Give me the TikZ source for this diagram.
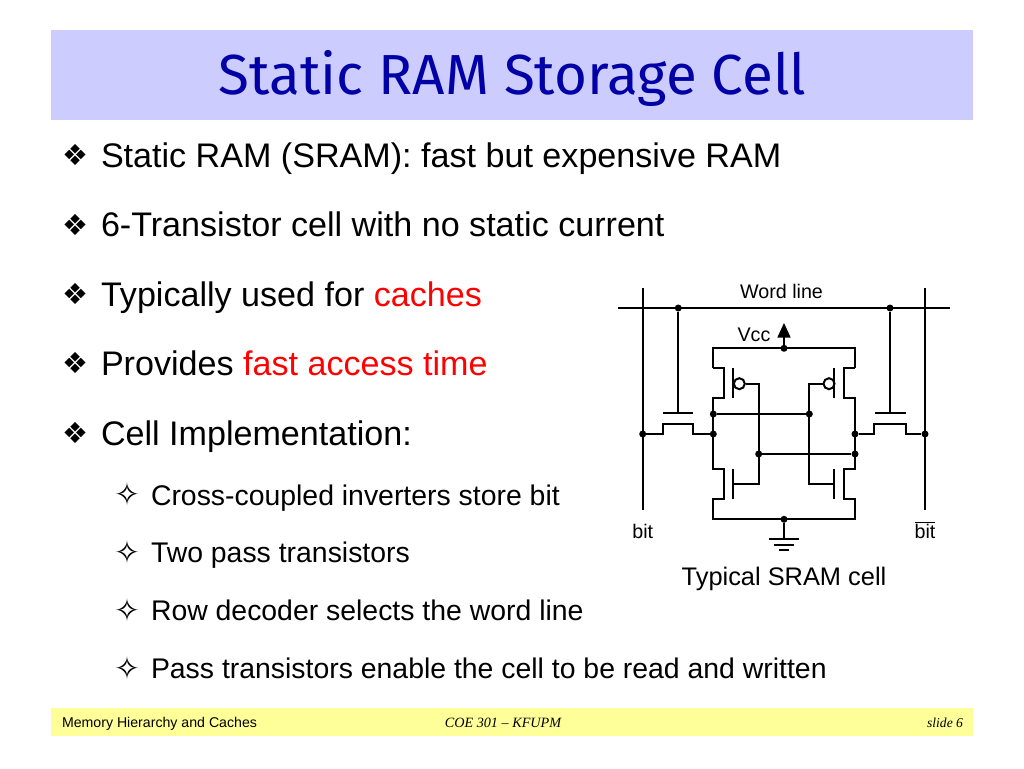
\documentclass[tikz,border=0pt]{standalone}
\usepackage{fontspec}
\setmainfont{Liberation Sans}
\newfontfamily\serifit{Liberation Serif}
\newfontfamily\titlefont{Fira Sans}
\newfontfamily\symfont{DejaVu Sans}
\newcommand{\bulA}{{\symfont\char"2756}}
\newcommand{\bulB}{{\symfont\char"2727}}
\definecolor{titlebg}{HTML}{CCCCFF}
\definecolor{titleblue}{HTML}{0000A6}
\definecolor{footbg}{HTML}{FFFF99}
\tikzset{
  txt/.style={inner sep=0pt,outer sep=0pt,anchor=base west,font=\fontsize{34.1}{36}\selectfont},
  subtxt/.style={inner sep=0pt,outer sep=0pt,anchor=base west,font=\fontsize{28.4}{32}\selectfont},
  bula/.style={inner sep=0pt,outer sep=0pt,anchor=base west,font=\fontsize{29}{32}\selectfont},
  bulb/.style={inner sep=0pt,outer sep=0pt,anchor=base west,font=\fontsize{31}{34}\selectfont},
  lab/.style={inner sep=0pt,outer sep=0pt,anchor=base,font=\fontsize{19.7}{22}\selectfont},
  foot/.style={inner sep=0pt,outer sep=0pt,anchor=base,font=\fontsize{14.15}{16}\selectfont},
  wire/.style={line width=2pt,line join=miter},
  dotn/.style={circle,fill=black,inner sep=0pt,minimum size=7pt},
  bubble/.style={circle,draw=black,line width=2pt,fill=white,inner sep=0pt,minimum size=11pt}
}
\begin{document}
\begin{tikzpicture}[x=1pt,y=-1pt]
\useasboundingbox (0,0) rectangle (1024,768);
\fill[white] (0,0) rectangle (1024,768);
\fill[titlebg] (51,30) rectangle (973,120);
\fill[footbg] (51,708) rectangle (973,736);
\node[inner sep=0pt,anchor=base,text=titleblue,font=\titlefont\fontsize{56.5}{60}\selectfont] (title) at (512.5,94) {Static RAM Storage Cell};

\node[bula] (b1) at (62,165) {\bulA};
\node[bula] (b2) at (62,235) {\bulA};
\node[bula] (b3) at (62,304) {\bulA};
\node[bula] (b4) at (62,373) {\bulA};
\node[bula] (b5) at (62,443) {\bulA};
\node[txt] (t1) at (101,167) {Static RAM (SRAM): fast but expensive RAM};
\node[txt] (t2) at (101,236) {6-Transistor cell with no static current};
\node[txt] (t3) at (101,306) {Typically used for \textcolor{red}{caches}};
\node[txt] (t4) at (101,375) {Provides \textcolor{red}{fast access time}};
\node[txt] (t5) at (101,445) {Cell Implementation:};
\node[bulb] (s1) at (114,505) {\bulB};
\node[bulb] (s2) at (114,563) {\bulB};
\node[bulb] (s3) at (114,621) {\bulB};
\node[bulb] (s4) at (114,679) {\bulB};
\node[subtxt] (u1) at (151,505) {Cross-coupled inverters store bit};
\node[subtxt] (u2) at (151,562) {Two pass transistors};
\node[subtxt] (u3) at (151,620) {Row decoder selects the word line};
\node[subtxt] (u4) at (151,678) {Pass transistors enable the cell to be read and written};

\node[lab] (wl) at (781.5,298) {Word line};
\node[lab] (vcc) at (754,341) {Vcc};
\node[lab] (bl) at (642.7,538) {bit};
\node[lab] (blb) at (925,538) {$\overline{\mbox{bit}}$};
\node[inner sep=0pt,anchor=base,font=\fontsize{25.4}{28}\selectfont] (cap) at (784,585) {Typical SRAM cell};

\node[foot,anchor=base west] (f1) at (62,727) {Memory Hierarchy and Caches};
\node[foot,font=\serifit\itshape\fontsize{14.2}{16}\selectfont] (f2) at (503,727) {COE 301 – KFUPM};
\node[foot,anchor=base east,font=\serifit\itshape\fontsize{13.6}{16}\selectfont] (f3) at (963,727) {slide 6};

% named junctions
\coordinate (wlL) at (618,308);
\coordinate (wlR) at (950,308);
\coordinate (bitLt) at (642.7,288);
\coordinate (bitLb) at (642.7,510);
\coordinate (bitRt) at (925,288);
\coordinate (bitRb) at (925,510);
\node[dotn] (gL) at (678.3,308) {};
\node[dotn] (gR) at (890,308) {};
\node[dotn] (chL) at (642.7,434) {};
\node[dotn] (chR) at (925,434) {};
\node[dotn] (nL) at (713.3,434) {};
\node[dotn] (nR) at (855,434) {};
\node[dotn] (qL) at (713.3,414) {};
\node[dotn] (gateL) at (809.3,414) {};
\node[dotn] (gateR) at (758.7,454) {};
\node[dotn] (qR) at (855,454) {};
\node[dotn] (vdd) at (784,348.3) {};
\node[dotn] (gnd) at (784,519.3) {};
\node[bubble] (bubL) at (739.3,383.7) {};
\node[bubble] (bubR) at (829,383.7) {};
\coordinate (vccbase) at (784,337);
\coordinate (vcctip) at (784,323);
\coordinate (gndend) at (784,539.3);

% word and bit lines
\draw[wire] (wlL) -- (wlR);
\draw[wire] (bitLt) -- (bitLb);
\draw[wire] (bitRt) -- (bitRb);
% pass transistors
\draw[wire] (gL) -- (678.3,413.3);
\draw[wire] (663,413.3) -- (693.3,413.3);
\draw[wire] (gR) -- (890,413.3);
\draw[wire] (875,413.3) -- (905.5,413.3);
\draw[wire] (chL) -- (662.7,434) -- (662.7,424) -- (693.3,424) -- (693.3,434) -- (nL);
\draw[wire] (nR) -- (874.3,434) -- (874.3,424) -- (905.7,424) -- (905.7,434) -- (chR);
% inverter rails and channels
\draw[wire] (713.3,368.3) -- (713.3,348.3) -- (855,348.3) -- (855,368.3);
\draw[wire] (713.3,368.3) -- (724.3,368.3) -- (724.3,398.3) -- (713.3,398.3) -- (713.3,469.3) -- (724.3,469.3) -- (724.3,499.3) -- (713.3,499.3) -- (713.3,519.3) -- (855,519.3) -- (855,499.3) -- (844,499.3) -- (844,469.3) -- (855,469.3) -- (855,398.3) -- (844,398.3) -- (844,368.3) -- (855,368.3);
% gates
\draw[wire] (733.3,368.3) -- (733.3,398.3);
\draw[wire] (733.3,469.3) -- (733.3,499.3);
\draw[wire] (834.3,368.3) -- (834.3,398.3);
\draw[wire] (834.3,469.3) -- (834.3,499.3);
\draw[wire] (bubL) -- (758.7,383.7) -- (758.7,484.3) -- (733.3,484.3);
\draw[wire] (bubR) -- (809.3,383.7) -- (809.3,484.3) -- (834.3,484.3);
\draw[wire] (qL) -- (gateL);
\draw[wire] (gateR) -- (qR);
% vcc
\draw[wire] (vdd) -- (vccbase);
\fill (vcctip) -- (790.7,337.5) -- (777.3,337.5) -- cycle;
% ground
\draw[wire] (gnd) -- (gndend);
\draw[wire] (769,539.3) -- (799,539.3);
\draw[wire] (774,544.7) -- (794,544.7);
\draw[wire] (779,550) -- (789,550);
\end{tikzpicture}
\end{document}
